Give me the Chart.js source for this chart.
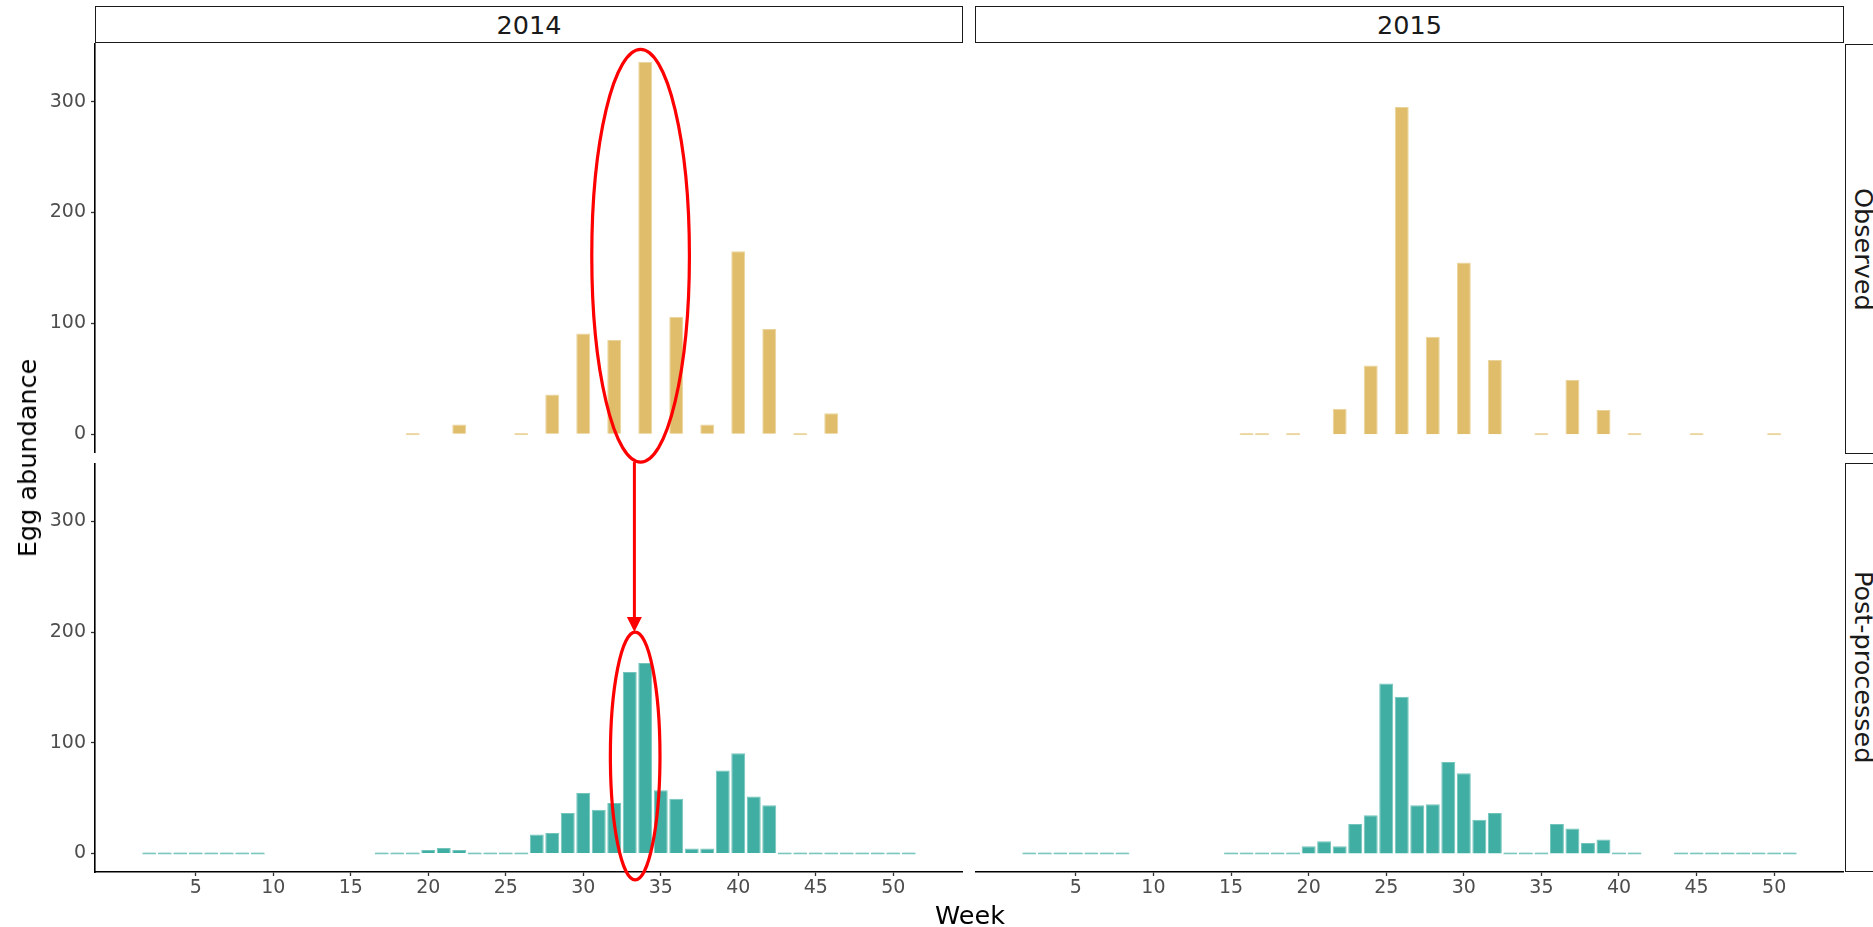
<!DOCTYPE html>
<html>
<head>
<meta charset="utf-8">
<script src="https://cdn.jsdelivr.net/npm/chart.js@4.4.1/dist/chart.umd.min.js"></script>
<style>
  body { margin: 0; background: #fff; width: 1873px; height: 927px; overflow: hidden; position: relative; font-family: "DejaVu Sans", sans-serif; }
  canvas { position: absolute; }
  .strip { position: absolute; box-sizing: border-box; border: 1.5px solid #1a1a1a; background: #fff; display: flex; align-items: center; justify-content: center; font-size: 25.5px; color: #1a1a1a; }
  .strip.side { writing-mode: vertical-rl; }
  .title { position: absolute; font-size: 25.5px; color: #000; white-space: nowrap; line-height: 30px; }
  #overlay { position: absolute; left: 0; top: 0; pointer-events: none; }
</style>
</head>
<body>
<div class="strip" id="s2014" style="left:95px;top:6px;width:868px;height:37px"></div>
<div class="strip" id="s2015" style="left:975px;top:6px;width:869px;height:37px"></div>
<div class="strip side" id="sObs" style="left:1845px;top:44px;width:37px;height:410px"></div>
<div class="strip side" id="sPost" style="left:1845px;top:463px;width:37px;height:409px"></div>

<canvas id="tl" width="963" height="410" style="left:0;top:43px"></canvas>
<canvas id="tr" width="869" height="410" style="left:975px;top:43px"></canvas>
<canvas id="bl" width="963" height="450" style="left:0;top:463px"></canvas>
<canvas id="br" width="869" height="450" style="left:975px;top:463px"></canvas>

<div class="title" id="ylab" style="left:27px;top:458px;transform:translate(-50%,-50%) rotate(-90deg)"></div>
<div class="title" id="xlab" style="left:970px;top:900px;transform:translateX(-50%)"></div>

<svg id="overlay" width="1873" height="927"></svg>

<script>
// weekly egg counts, one entry per week 1..52 (null = week not sampled)
const WEEKS = [1, 2, 3, 4, 5, 6, 7, 8, 9, 10, 11, 12, 13, 14, 15, 16, 17, 18, 19, 20, 21, 22, 23, 24, 25, 26,
  27, 28, 29, 30, 31, 32, 33, 34, 35, 36, 37, 38, 39, 40, 41, 42, 43, 44, 45, 46, 47, 48, 49, 50, 51, 52]

const OBSERVED_2014 = [null, null, null, null, null, null, null, null, null, null,
  null, null, null, null, null, null, null, null, 0, null,
  null, 9, null, null, null, 0, null, 36, null, 91,
  null, 85, null, 336, null, 106, null, 9, null, 165,
  null, 95, null, 0, null, 19, null, null, null, null,
  null, null]

const OBSERVED_2015 = [null, null, null, null, null, null, null, null, null, null,
  null, null, null, null, null, 0, 0, null, 0, null,
  null, 23, null, 62, null, 295, null, 88, null, 155,
  null, 67, null, null, 0, null, 49, null, 22, null,
  0, null, null, null, 0, null, null, null, null, 0,
  null, null]

const POST_2014 = [null, 0, 0, 0, 0, 0, 0, 0, 0, null,
  null, null, null, null, null, null, 0, 0, 0, 3,
  5, 3, 0, 0, 0, 0, 17, 18.5, 36.5, 54.5,
  39.5, 45.5, 164, 172, 57, 49.5, 4.5, 4.5, 75, 90.5,
  51.5, 43.5, 0, 0, 0, 0, 0, 0, 0, 0,
  0, null]

const POST_2015 = [null, 0, 0, 0, 0, 0, 0, 0, null, null,
  null, null, null, null, 0, 0, 0, 0, 0, 6.5,
  11, 6.5, 26.5, 34.5, 153.5, 141.5, 43.5, 44.5, 82.5, 72.5,
  30.5, 36.5, 0, 0, 0, 26.5, 22.5, 9.5, 12.5, 0,
  0, null, null, 0, 0, 0, 0, 0, 0, 0,
  0, null]

const YEARS = ["2014", "2015"]
const ROWS = ["Observed", "Post-processed"]
const WEEK_TICKS = [5, 10, 15, 20, 25, 30, 35, 40, 45, 50]
const ABUNDANCE_TICKS = [0, 100, 200, 300]
const X_TITLE = "Week"
const Y_TITLE = "Egg abundance"

// red call-outs, given in data units (week, abundance)
const CALLOUT_OBSERVED = { week: 33.7, value: 161, rx: 3.15, ry: 186 }
const CALLOUT_POST = { week: 33.35, value: 88, rx: 1.6, ry: 112 }
const ARROW_WEEK = 33.3

const GOLD = "#e0bd6a"
const TEAL = "#40aea3"
const TICK_FONT = { family: "DejaVu Sans", size: 19 }

document.getElementById("s2014").textContent = YEARS[0]
document.getElementById("s2015").textContent = YEARS[1]
document.getElementById("sObs").textContent = ROWS[0]
document.getElementById("sPost").textContent = ROWS[1]
document.getElementById("xlab").textContent = X_TITLE
document.getElementById("ylab").textContent = Y_TITLE

function panel(id, values, fill, edge, showX, showY) {
  return new Chart(document.getElementById(id), {
    type: "bar",
    data: {
      datasets: [{
        data: WEEKS.map((w, i) => ({ x: w, y: values[i] })),
        backgroundColor: fill,
        borderColor: edge,
        borderWidth: 1,
        minBarLength: 2,
        barPercentage: 0.9,
        categoryPercentage: 1,
      }],
    },
    options: {
      responsive: false,
      animation: false,
      events: [],
      layout: { padding: 0 },
      plugins: { legend: { display: false }, tooltip: { enabled: false } },
      scales: {
        x: {
          type: "linear", min: -1.5, max: 54.5, offset: false, display: showX,
          afterBuildTicks: a => { a.ticks = WEEK_TICKS.map(v => ({ value: v })) },
          afterFit: a => { a.height = showX ? 41 : 0; a.paddingLeft = 0; a.paddingRight = 0 },
          grid: { offset: false, drawOnChartArea: false, tickLength: 4, tickColor: "#333", tickWidth: 1.3 },
          border: { display: true, color: "#000", width: 1.6 },
          ticks: { color: "#4d4d4d", font: TICK_FONT, padding: 1, maxRotation: 0, autoSkip: false },
        },
        y: {
          min: -16.8, max: 352.8, display: showY,
          afterBuildTicks: a => { a.ticks = ABUNDANCE_TICKS.map(v => ({ value: v })) },
          afterFit: a => { a.width = showY ? 95 : 0; a.paddingTop = 0; a.paddingBottom = 0 },
          grid: { drawOnChartArea: false, tickLength: 4, tickColor: "#333", tickWidth: 1.3 },
          border: { display: true, color: "#000", width: 1.6 },
          ticks: { color: "#4d4d4d", font: TICK_FONT, padding: 5 },
        },
      },
    },
  })
}

const tl = panel("tl", OBSERVED_2014, GOLD, "#ebd49b", false, true)
const tr = panel("tr", OBSERVED_2015, GOLD, "#ebd49b", false, false)
const bl = panel("bl", POST_2014, TEAL, "#72c5bb", true, true)
const br = panel("br", POST_2015, TEAL, "#72c5bb", true, false)

// page position of a (week, value) point inside a given panel
function at(chart, week, value) {
  const c = chart.canvas
  return [c.offsetLeft + chart.scales.x.getPixelForValue(week), c.offsetTop + chart.scales.y.getPixelForValue(value)]
}

const svg = document.getElementById("overlay")
function add(tag, attrs) {
  const el = document.createElementNS("http://www.w3.org/2000/svg", tag)
  for (const k in attrs) el.setAttribute(k, attrs[k])
  svg.appendChild(el)
}
function ellipse(chart, c) {
  const [cx, cy] = at(chart, c.week, c.value)
  const [ex] = at(chart, c.week + c.rx, c.value)
  const [, ey] = at(chart, c.week, c.value - c.ry)
  add("ellipse", { cx, cy, rx: ex - cx, ry: ey - cy, fill: "none", stroke: "#ff0000", "stroke-width": 3.2 })
}
ellipse(tl, CALLOUT_OBSERVED)
ellipse(bl, CALLOUT_POST)

const [ax, ay] = at(tl, ARROW_WEEK, CALLOUT_OBSERVED.value - CALLOUT_OBSERVED.ry)
const [, by] = at(bl, ARROW_WEEK, CALLOUT_POST.value + CALLOUT_POST.ry)
add("line", { x1: ax, y1: ay, x2: ax, y2: by - 14, stroke: "#ff0000", "stroke-width": 3 })
add("polygon", { points: `${ax - 7.5},${by - 15} ${ax + 7.5},${by - 15} ${ax},${by}`, fill: "#ff0000" })
</script>
</body>
</html>
